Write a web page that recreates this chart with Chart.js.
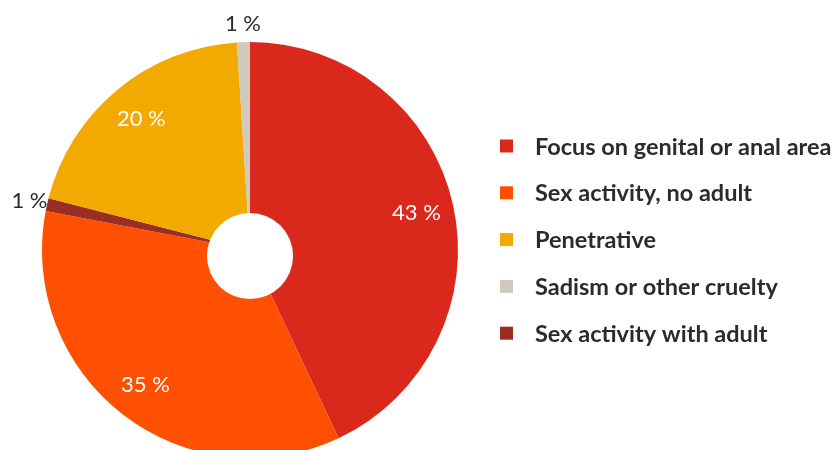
<!DOCTYPE html>
<html>
<head>
<meta charset="utf-8">
<script src="https://cdn.jsdelivr.net/npm/chart.js@4.4.1/dist/chart.umd.min.js"></script>
<style>
  html, body { margin: 0; padding: 0; background: #fff; }
  .wrap { width: 838px; height: 450px; overflow: hidden; position: relative; }
  canvas { display: block; }
</style>
</head>
<body>
<div class="wrap">
  <canvas id="pieChart" width="838" height="470"></canvas>
</div>
<script>
// slices in clockwise order from 12 o'clock
const categories = [
  'Focus on genital or anal area',
  'Sex activity, no adult',
  'Sex activity with adult',
  'Penetrative',
  'Sadism or other cruelty'
];
const shares = [43, 35, 1, 20, 1];
const sliceColors = ['#da291c', '#ff4f00', '#9b2d22', '#f2a900', '#d0c9be'];
// legend lists the categories in a different order than the slices
const legendOrder = [0, 1, 3, 4, 2];

const textDark = '#2b2b2b';

// percentage labels: big slices inside in white, tiny ones outside the rim
const sliceLabels = {
  id: 'sliceLabels',
  afterDatasetsDraw(chart) {
    const ctx = chart.ctx;
    const meta = chart.getDatasetMeta(0);
    ctx.save();
    ctx.font = '400 22px Lato, "Open Sans", sans-serif';
    ctx.textAlign = 'center';
    ctx.textBaseline = 'middle';
    meta.data.forEach((arc, i) => {
      const p = arc.getProps(['x', 'y', 'startAngle', 'endAngle', 'outerRadius'], true);
      const mid = (p.startAngle + p.endAngle) / 2;
      const inside = shares[i] >= 5;
      const r = inside ? p.outerRadius * 0.82 : p.outerRadius + 18;
      ctx.fillStyle = inside ? '#ffffff' : textDark;
      ctx.fillText(shares[i] + ' %', p.x + Math.cos(mid) * r, p.y + Math.sin(mid) * r);
    });
    ctx.restore();
  }
};

// white hole, sitting a little below the pie centre
const holeShift = 6;
const hole = {
  id: 'hole',
  afterDatasetsDraw(chart) {
    const arc = chart.getDatasetMeta(0).data[0];
    if (!arc) return;
    const ctx = chart.ctx;
    ctx.save();
    ctx.fillStyle = '#ffffff';
    ctx.beginPath();
    ctx.arc(arc.x, arc.y + holeShift, arc.outerRadius * 0.207, 0, Math.PI * 2);
    ctx.fill();
    ctx.restore();
  }
};

// legend on the right, square swatches and bold names
const sideLegend = {
  id: 'sideLegend',
  afterDraw(chart) {
    const ctx = chart.ctx;
    const left = 500, top = 139.5, step = 46.8, box = 13;
    ctx.save();
    ctx.font = '700 23.5px Lato, "Open Sans", sans-serif';
    ctx.textBaseline = 'middle';
    ctx.textAlign = 'left';
    legendOrder.forEach((idx, k) => {
      const y = top + k * step;
      ctx.fillStyle = sliceColors[idx];
      ctx.fillRect(left, y, box, box);
      ctx.fillStyle = textDark;
      ctx.fillText(categories[idx], left + 35, y + box / 2 + 1);
    });
    ctx.restore();
  }
};

new Chart(document.getElementById('pieChart'), {
  type: 'pie',
  data: {
    labels: categories,
    datasets: [{
      data: shares,
      backgroundColor: sliceColors,
      borderWidth: 0
    }]
  },
  options: {
    responsive: false,
    animation: false,
    devicePixelRatio: 1,
    layout: {
      padding: { left: 42, top: 42, right: 380, bottom: 12 }
    },
    plugins: {
      legend: { display: false },
      tooltip: { enabled: false }
    }
  },
  plugins: [hole, sliceLabels, sideLegend]
});
</script>
</body>
</html>
